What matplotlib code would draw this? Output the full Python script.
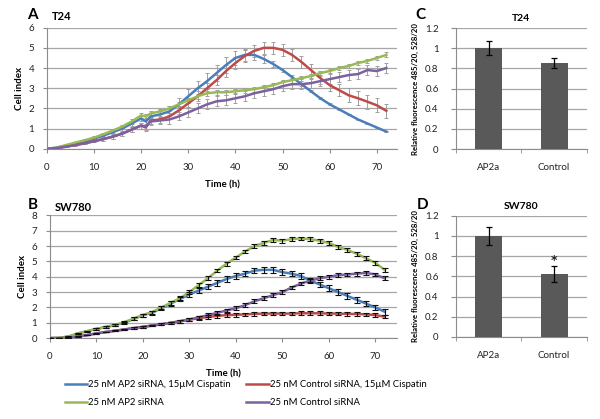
import numpy as np
import matplotlib
matplotlib.use("Agg")
import matplotlib.pyplot as plt

plt.rcParams['font.family'] = ['Lato', 'DejaVu Sans']

# ---- T24 cell index (panel A) ----
t24_time = [0, 2, 4, 6, 8, 10, 12, 14, 16, 18, 20, 21, 22, 24, 26, 28, 30, 32, 34, 36, 38,
            40, 42, 44, 46, 48, 50, 52, 54, 56, 58, 60, 62, 64, 66, 68, 70, 72]
t24_ap2_cis = [0, 0.05, 0.15, 0.25, 0.35, 0.5, 0.65, 0.82, 1.0, 1.25, 1.5, 1.35,
               1.6, 1.7, 1.85, 2.2, 2.6, 3.0, 3.35, 3.75, 4.15, 4.5, 4.65, 4.65, 4.45, 4.2,
               3.9, 3.55, 3.2, 2.85, 2.5, 2.2, 1.95, 1.7, 1.45, 1.25, 1.05, 0.85]
t24_ctl_cis = [0, 0.03, 0.1, 0.18, 0.27, 0.37, 0.48, 0.6, 0.75, 0.95, 1.15, 1.05,
               1.4, 1.45, 1.6, 1.9, 2.25, 2.6, 3.0, 3.4, 3.85, 4.25, 4.6, 4.85, 5.0, 5.0,
               4.9, 4.65, 4.3, 3.9, 3.5, 3.15, 2.9, 2.65, 2.5, 2.33, 2.15, 1.88]
t24_ap2 = [0, 0.05, 0.18, 0.3, 0.42, 0.55, 0.72, 0.9, 1.1, 1.35, 1.65, 1.6,
           1.75, 1.85, 2.0, 2.2, 2.4, 2.6, 2.75, 2.8, 2.8, 2.85, 2.9, 2.95, 3.05, 3.15,
           3.3, 3.4, 3.5, 3.6, 3.75, 3.85, 4.0, 4.1, 4.25, 4.35, 4.5, 4.65]
t24_ctl = [0, 0.03, 0.1, 0.18, 0.27, 0.37, 0.48, 0.6, 0.75, 0.95, 1.15, 1.1,
           1.35, 1.4, 1.45, 1.6, 1.8, 2.0, 2.2, 2.35, 2.4, 2.5, 2.6, 2.75, 2.85, 2.95,
           3.1, 3.2, 3.2, 3.25, 3.35, 3.45, 3.55, 3.65, 3.7, 3.9, 3.85, 4.0]
t24_ap2_cis_err = [0, 0.02, 0.03, 0.05, 0.05, 0.06, 0.08, 0.1, 0.1, 0.12, 0.15, 0.15,
                   0.15, 0.2, 0.25, 0.3, 0.35, 0.35, 0.4, 0.4, 0.4, 0.35, 0.3, 0.25, 0.2, 0.15,
                   0.12, 0.1, 0.08, 0.06, 0.05, 0.05, 0.05, 0.04, 0.04, 0.03, 0.03, 0.03]
t24_ctl_cis_err = [0, 0.02, 0.03, 0.04, 0.05, 0.06, 0.08, 0.1, 0.1, 0.12, 0.15, 0.15,
                   0.15, 0.15, 0.15, 0.2, 0.2, 0.25, 0.25, 0.25, 0.3, 0.3, 0.3, 0.3, 0.3, 0.3,
                   0.3, 0.3, 0.3, 0.3, 0.3, 0.3, 0.3, 0.35, 0.35, 0.35, 0.35, 0.35]
t24_ap2_err = [0, 0.02, 0.03, 0.05, 0.05, 0.06, 0.08, 0.1, 0.1, 0.12, 0.12, 0.12,
               0.12, 0.12, 0.12, 0.12, 0.12, 0.12, 0.12, 0.12, 0.12, 0.12, 0.12, 0.12, 0.12, 0.12,
               0.12, 0.12, 0.12, 0.12, 0.12, 0.12, 0.12, 0.12, 0.12, 0.12, 0.12, 0.12]
t24_ctl_err = [0, 0.02, 0.03, 0.05, 0.05, 0.06, 0.08, 0.1, 0.1, 0.12, 0.15, 0.15,
               0.15, 0.15, 0.2, 0.2, 0.25, 0.25, 0.25, 0.25, 0.25, 0.25, 0.25, 0.25, 0.25, 0.25,
               0.25, 0.25, 0.25, 0.25, 0.25, 0.25, 0.25, 0.25, 0.25, 0.25, 0.25, 0.25]

# ---- SW780 cell index (panel B) ----
sw_time = [0, 2, 4, 6, 8, 10, 12, 14, 16, 18, 20, 22, 24, 26, 28, 30, 32, 34, 36, 38,
           40, 42, 44, 46, 48, 50, 52, 54, 56, 58, 60, 62, 64, 66, 68, 70, 72]
sw_ap2_cis = [0, 0.02, 0.1, 0.3, 0.45, 0.6, 0.72, 0.85, 1.0, 1.25, 1.5,
              1.65, 1.95, 2.25, 2.55, 2.85, 3.1, 3.35, 3.6, 3.85, 4.05, 4.2, 4.4, 4.45, 4.45,
              4.3, 4.2, 4.05, 3.75, 3.5, 3.25, 3.0, 2.75, 2.5, 2.25, 2.0, 1.72]
sw_ctl_cis = [0, 0, 0.03, 0.1, 0.2, 0.3, 0.4, 0.48, 0.56, 0.65, 0.73,
              0.82, 0.9, 1.0, 1.1, 1.2, 1.3, 1.38, 1.45, 1.5, 1.52, 1.55, 1.58, 1.6, 1.6,
              1.6, 1.6, 1.62, 1.62, 1.62, 1.6, 1.6, 1.58, 1.57, 1.55, 1.5, 1.4]
sw_ap2 = [0, 0.02, 0.1, 0.3, 0.45, 0.6, 0.72, 0.85, 1.05, 1.25, 1.5,
          1.7, 2.0, 2.3, 2.6, 3.0, 3.45, 3.9, 4.4, 4.85, 5.25, 5.65, 6.0, 6.2, 6.4,
          6.35, 6.45, 6.5, 6.45, 6.35, 6.2, 5.95, 5.75, 5.5, 5.2, 4.9, 4.45]
sw_ctl = [0, 0, 0.03, 0.1, 0.2, 0.3, 0.4, 0.48, 0.56, 0.65, 0.73,
          0.82, 0.9, 1.0, 1.1, 1.22, 1.35, 1.5, 1.65, 1.8, 1.95, 2.15, 2.4, 2.6, 2.8,
          3.0, 3.3, 3.55, 3.75, 3.9, 4.0, 4.1, 4.15, 4.2, 4.25, 4.15, 3.9]
sw_err_ap2_cis = [0, 0, 0.02, 0.03, 0.04, 0.05, 0.05, 0.06, 0.08, 0.1, 0.1, 0.12, 0.12,
                  0.14, 0.15, 0.15] + [0.18] * 21
sw_err_ctl_cis = [0, 0, 0.01, 0.02, 0.02, 0.03, 0.03, 0.04, 0.04, 0.05, 0.05, 0.06, 0.06,
                  0.08, 0.1, 0.1] + [0.12] * 21
sw_err_ap2 = [0, 0, 0.02, 0.03, 0.04, 0.05, 0.05, 0.06, 0.08, 0.1, 0.1, 0.1, 0.1,
              0.12, 0.12, 0.12] + [0.12] * 21
sw_err_ctl = [0, 0, 0.01, 0.02, 0.02, 0.03, 0.03, 0.04, 0.04, 0.05, 0.05, 0.06, 0.06,
              0.08, 0.1, 0.1] + [0.12] * 21

# ---- fluorescence bars (panels C, D) ----
bar_labels = ["AP2a", "Control"]
t24_fluor = [1.0, 0.855]
t24_fluor_err = [0.07, 0.05]
sw_fluor = [1.0, 0.62]
sw_fluor_err = [0.085, 0.08]

series_names = ["25 nM AP2 siRNA, 15µM Cispatin", "25 nM Control siRNA, 15µM Cispatin",
                "25 nM AP2 siRNA", "25 nM Control siRNA"]
colors = ["#4a7ebb", "#be4b48", "#98b954", "#7d60a0"]

grid_c = "#a6a6a6"
tick_fs = 7


def style_line_axes(ax, ymax, xmax):
    ax.set_xlim(0, xmax)
    ax.set_ylim(0, ymax)
    ax.set_xticks(range(0, 71, 10))
    ax.set_yticks(range(0, ymax + 1))
    ax.yaxis.grid(True, color=grid_c, lw=0.9)
    ax.set_axisbelow(True)
    for s in ["top", "right"]:
        ax.spines[s].set_visible(False)
    for s in ["left", "bottom"]:
        ax.spines[s].set_color("#8c8c8c")
        ax.spines[s].set_linewidth(0.8)
    ax.tick_params(labelsize=tick_fs, color="#8c8c8c", length=3, width=0.8,
                   labelcolor="#222222")
    ax.tick_params(axis="x", pad=7)
    ax.tick_params(axis="y", pad=6)
    ax.set_xlabel("Time (h)", fontsize=7, fontweight="bold", labelpad=6)
    ax.set_ylabel("Cell index", fontsize=7, fontweight="bold", labelpad=3)


def style_bar_axes(ax):
    ax.set_ylim(0, 1.2)
    ax.set_xlim(-0.5, 1.5)
    ax.set_yticks(np.arange(0, 1.21, 0.2))
    ax.set_yticklabels(["0", "0.2", "0.4", "0.6", "0.8", "1", "1.2"])
    ax.yaxis.grid(True, color=grid_c, lw=0.9)
    ax.set_axisbelow(True)
    for s in ["top", "right"]:
        ax.spines[s].set_visible(False)
    for s in ["left", "bottom"]:
        ax.spines[s].set_color("#8c8c8c")
        ax.spines[s].set_linewidth(0.8)
    ax.set_xticks([0, 1])
    ax.set_xticklabels(bar_labels)
    ax.set_xticks([-0.5, 0.5, 1.5], minor=True)
    ax.tick_params(axis="x", which="major", length=0, pad=10)
    ax.tick_params(axis="x", which="minor", length=3, color="#8c8c8c")
    ax.tick_params(axis="y", pad=9)
    ax.tick_params(labelsize=tick_fs, color="#8c8c8c", labelcolor="#222222")
    ax.set_ylabel("Relative fluorescence 485/20, 528/20", fontsize=5.6,
                  fontweight="bold", labelpad=4)


fig = plt.figure(figsize=(6, 4.19), dpi=100)

axA = fig.add_axes([0.078, 0.645, 0.584, 0.289])
axB = fig.add_axes([0.083, 0.193, 0.579, 0.293])
axC = fig.add_axes([0.76, 0.644, 0.218, 0.289])
axD = fig.add_axes([0.76, 0.196, 0.218, 0.289])

a_series = [(t24_ap2_cis, t24_ap2_cis_err), (t24_ctl_cis, t24_ctl_cis_err),
            (t24_ap2, t24_ap2_err), (t24_ctl, t24_ctl_err)]
for (vals, err), c in zip(a_series, colors):
    axA.errorbar(t24_time, vals, yerr=err, fmt="none", ecolor="#a0a0a0",
                 elinewidth=0.7, capsize=1.5, capthick=0.7, zorder=2)
for (vals, err), c in zip(a_series, colors):
    axA.plot(t24_time, vals, color=c, lw=1.8, zorder=3)
style_line_axes(axA, 6, 74.3)

b_series = [(sw_ap2_cis, sw_err_ap2_cis), (sw_ctl_cis, sw_err_ctl_cis),
            (sw_ap2, sw_err_ap2), (sw_ctl, sw_err_ctl)]
handles = []
for (vals, err), c, name in zip(b_series, colors, series_names):
    h, = axB.plot(sw_time, vals, color=c, lw=1.8, zorder=3, label=name)
    handles.append(h)
for vals, err in b_series:
    axB.errorbar(sw_time, vals, yerr=err, fmt="none", ecolor="#111111",
                 elinewidth=0.8, capsize=2.2, capthick=0.8, zorder=4)
style_line_axes(axB, 8, 74.7)

for ax, vals, err in [(axC, t24_fluor, t24_fluor_err), (axD, sw_fluor, sw_fluor_err)]:
    ax.bar(range(len(vals)), vals, width=0.41, color="#595959", zorder=3)
    ax.errorbar(range(len(vals)), vals, yerr=err, fmt="none", ecolor="black",
                elinewidth=0.9, capsize=2.5, capthick=0.9, zorder=4)
    style_bar_axes(ax)
axD.text(1, sw_fluor[1] + sw_fluor_err[1] - 0.01, "*", ha="center", va="bottom",
         fontsize=9, fontweight="bold", family="DejaVu Sans", color="#222222")

axC.set_title("T24", fontsize=7.5, fontweight="bold", pad=5)
axD.set_title("SW780", fontsize=7.5, fontweight="bold", pad=5)

fig.text(0.045, 0.965, "A", fontsize=11, fontweight="bold", va="center")
fig.text(0.087, 0.96, "T24", fontsize=8, fontweight="bold", va="center")
fig.text(0.047, 0.51, "B", fontsize=11, fontweight="bold", va="center")
fig.text(0.092, 0.505, "SW780", fontsize=8, fontweight="bold", va="center")
fig.text(0.693, 0.965, "C", fontsize=11, fontweight="bold", va="center")
fig.text(0.695, 0.51, "D", fontsize=11, fontweight="bold", va="center")

order = [0, 2, 1, 3]
fig.legend([handles[i] for i in order], [series_names[i] for i in order],
           ncol=2, loc="upper left", bbox_to_anchor=(0.108, 0.093), frameon=False,
           fontsize=6.8, handlelength=2.4, handletextpad=0.1, columnspacing=1.6,
           labelspacing=1.0, borderpad=0, borderaxespad=0)

fig.savefig("out.png", dpi=100)
